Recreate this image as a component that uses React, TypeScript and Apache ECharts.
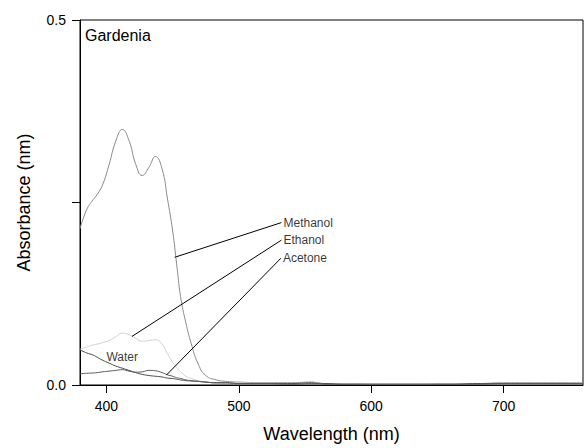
import React, { useEffect, useRef } from "react";
import * as echarts from "echarts";

// Wavelength grid (nm)
const wavelengths = [
  380, 385, 390, 393, 397, 402, 407, 412, 417, 422, 427, 432, 437, 442, 446, 450, 453, 456, 460, 464,
  469, 475, 483, 490, 500, 520, 540, 555, 560, 565, 580, 600, 620, 640, 660, 680, 700, 720, 740, 760,
];

const methanol = [
  0.214, 0.24, 0.254, 0.261, 0.274, 0.302, 0.334, 0.35, 0.335, 0.303, 0.287, 0.298, 0.313, 0.296, 0.256, 0.211, 0.166, 0.121, 0.085, 0.057,
  0.03, 0.013, 0.007, 0.005, 0.004, 0.003, 0.003, 0.004, 0.003, 0.002, 0.002, 0.001, 0.001, 0.001, 0.002, 0.002, 0.003, 0.003, 0.003, 0.003,
];

const ethanol = [
  0.049, 0.052, 0.055, 0.056, 0.058, 0.061, 0.066, 0.071, 0.069, 0.064, 0.06, 0.061, 0.062, 0.056, 0.043, 0.031, 0.024, 0.018, 0.012, 0.009,
  0.006, 0.004, 0.003, 0.003, 0.003, 0.002, 0.002, 0.003, 0.002, 0.002, 0.002, 0.001, 0.001, 0.001, 0.002, 0.002, 0.002, 0.002, 0.002, 0.002,
];

const water = [
  0.048, 0.044, 0.041, 0.038, 0.034, 0.03, 0.026, 0.023, 0.02, 0.017, 0.0145, 0.013, 0.012, 0.011, 0.0095, 0.0088, 0.008, 0.007, 0.006, 0.0055,
  0.005, 0.004, 0.003, 0.003, 0.002, 0.002, 0.002, 0.003, 0.002, 0.002, 0.001, 0.001, 0.001, 0.001, 0.001, 0.002, 0.002, 0.002, 0.002, 0.002,
];

const acetone = [
  0.0153, 0.016, 0.0165, 0.017, 0.018, 0.019, 0.02, 0.021, 0.019, 0.0176, 0.018, 0.02, 0.0195, 0.017, 0.014, 0.012, 0.01, 0.009, 0.007, 0.006,
  0.005, 0.004, 0.003, 0.003, 0.002, 0.002, 0.001, 0.002, 0.002, 0.001, 0.001, 0.001, 0.001, 0.001, 0.001, 0.001, 0.002, 0.002, 0.002, 0.002,
];

// Tick values
const xTickValues = [400, 500, 600, 700];
const yTickValues = [0, 0.25, 0.5];
const yLabelValues = [0, 0.5];

// Annotations (data coordinates)
const annotationNames = ["Methanol", "Ethanol", "Acetone"];
const leaderStartX = [451.6, 419.2, 445.3];
const leaderStartY = [0.175, 0.0665, 0.0136];
const leaderEndX = [532.2, 532.2, 531.8];
const leaderEndY = [0.2225, 0.1985, 0.1737];
const waterLabel = { name: "Water", x: 400, y: 0.0387 };
const panelTitle = "Gardenia";

const FONT = "'Liberation Sans', Arial, Helvetica, sans-serif";

const zip = (xs: number[], ys: number[]) => xs.map((x, i) => [x, ys[i]]);

export default function App() {
  const ref = useRef<HTMLDivElement>(null);

  useEffect(() => {
    if (!ref.current) return;
    const chart = echarts.init(ref.current, undefined, { renderer: "svg" });

    const curve = (name: string, ys: number[], color: string) => ({
      name,
      type: "line",
      data: zip(wavelengths, ys),
      showSymbol: false,
      symbol: "none",
      smooth: 0.5,
      lineStyle: { color, width: 1 },
      silent: true,
      z: 2,
    });

    const leaders = annotationNames.map((n, i) => ({
      name: n + " leader",
      type: "line",
      data: [
        [leaderStartX[i], leaderStartY[i]],
        [leaderEndX[i], leaderEndY[i]],
      ],
      symbol: "none",
      showSymbol: false,
      lineStyle: { color: "#000", width: 1 },
      silent: true,
      z: 3,
    }));

    const labelData = annotationNames.map((n, i) => ({
      value: [leaderEndX[i], leaderEndY[i]],
      label: { formatter: n, distance: 2 },
    }));
    labelData.push({
      value: [waterLabel.x, waterLabel.y],
      label: { formatter: waterLabel.name, distance: 0 },
    });

    chart.setOption({
      animation: false,
      backgroundColor: "#fff",
      grid: {
        left: 80,
        top: 20,
        right: 1,
        bottom: 59,
        show: true,
        borderColor: "#000",
        borderWidth: 1,
        containLabel: false,
      },
      graphic: [
        {
          type: "text",
          left: 85,
          top: 27,
          style: { text: panelTitle, font: `16px ${FONT}`, fill: "#000" },
        },
      ],
      xAxis: {
        type: "value",
        min: 380,
        max: 760,
        name: "Wavelength (nm)",
        nameLocation: "middle",
        nameGap: 40,
        nameTextStyle: { fontSize: 18, fontFamily: FONT, color: "#000" },
        axisLine: { show: true, lineStyle: { color: "#000", width: 1 } },
        axisTick: {
          show: true,
          inside: false,
          length: 8,
          customValues: xTickValues,
          lineStyle: { color: "#000", width: 1 },
        },
        axisLabel: {
          show: true,
          margin: 14,
          customValues: xTickValues,
          fontSize: 14,
          fontFamily: FONT,
          color: "#000",
          formatter: (v: number) => String(v),
        },
        splitLine: { show: false },
      },
      yAxis: {
        type: "value",
        min: 0,
        max: 0.5,
        name: "Absorbance (nm)",
        nameLocation: "middle",
        nameGap: 47,
        nameTextStyle: { fontSize: 18, fontFamily: FONT, color: "#000" },
        axisLine: { show: true, lineStyle: { color: "#000", width: 1 } },
        axisTick: {
          show: true,
          inside: false,
          length: 8,
          customValues: yTickValues,
          lineStyle: { color: "#000", width: 1 },
        },
        axisLabel: {
          show: true,
          margin: 14,
          customValues: yLabelValues,
          fontSize: 14,
          fontFamily: FONT,
          color: "#000",
          formatter: (v: number) => v.toFixed(1),
        },
        splitLine: { show: false },
      },
      series: [
        curve("Methanol", methanol, "#8a8a8a"),
        curve("Ethanol", ethanol, "#d0d0d0"),
        curve("Water", water, "#4a4a4a"),
        curve("Acetone", acetone, "#5a5a5a"),
        ...leaders,
        {
          name: "labels",
          type: "scatter",
          symbolSize: 0,
          silent: true,
          data: labelData,
          label: {
            show: true,
            position: "right",
            fontSize: 12,
            fontFamily: FONT,
            color: "#000",
          },
          z: 4,
        },
      ],
    });

    return () => chart.dispose();
  }, []);

  return (
    <div
      ref={ref}
      style={{ position: "fixed", left: 0, top: 0, width: 584, height: 448, background: "#fff" }}
    />
  );
}
